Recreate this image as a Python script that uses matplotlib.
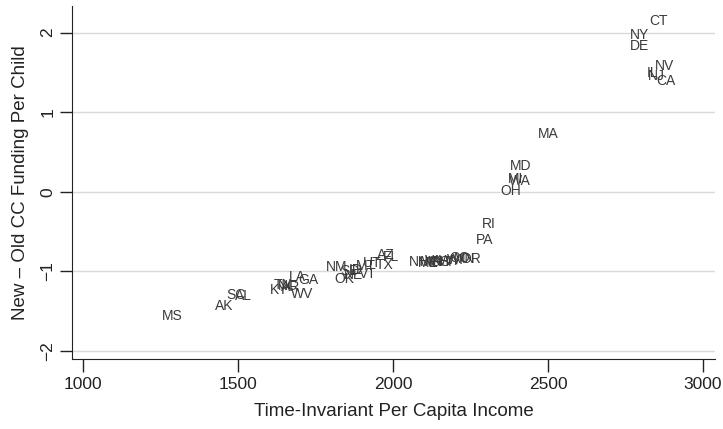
import matplotlib
matplotlib.use("Agg")
import matplotlib.pyplot as plt

states = ["MS", "AK", "SC", "AL", "KY", "TN", "NC", "AR", "LA", "GA", "WV",
          "NM", "OK", "SD", "ID", "NE", "MT", "VT", "UT", "TX", "AZ", "FL",
          "NH", "ME", "MO", "VA", "IN", "KS", "HI", "WY", "WI", "CO", "MN", "OR",
          "PA", "RI", "OH", "MI", "WA", "MD", "MA",
          "IL", "NJ", "CA", "NV", "NY", "DE", "CT"]
income = [1287, 1455, 1494, 1516, 1632, 1645, 1661, 1671, 1690, 1726, 1706,
          1819, 1842, 1861, 1881, 1874, 1913, 1919, 1932, 1974, 1977, 1994,
          2084, 2113, 2123, 2132, 2142, 2155, 2171, 2184, 2200, 2216, 2232, 2252,
          2294, 2310, 2381, 2397, 2410, 2413, 2500,
          2839, 2848, 2881, 2877, 2794, 2794, 2858]
funding = [-1.56, -1.44, -1.29, -1.31, -1.23, -1.17, -1.18, -1.19, -1.07, -1.11, -1.28,
           -0.94, -1.09, -0.99, -0.98, -1.04, -0.93, -1.03, -0.89, -0.92, -0.79, -0.82,
           -0.88, -0.90, -0.88, -0.87, -0.88, -0.88, -0.88, -0.87, -0.86, -0.83, -0.84, -0.84,
           -0.60, -0.40, 0.01, 0.16, 0.14, 0.33, 0.73,
           1.49, 1.46, 1.39, 1.58, 1.97, 1.83, 2.15]

xticks = [1000, 1500, 2000, 2500, 3000]
yticks = [-2, -1, 0, 1, 2]

plt.rcParams['font.family'] = ['Liberation Sans', 'DejaVu Sans']

fig = plt.figure(figsize=(7.23, 4.29), dpi=100)
ax = fig.add_axes([72/723, 1-359/429, (715-72)/723, (359-6.4)/429])

for s, x, y in zip(states, income, funding):
    ax.text(x, y, s, ha='center', va='center', fontsize=10, color='#3a3a3a')

ax.set_xlim(964, 3039)
ax.set_ylim(-2.1, 2.33)
ax.set_xticks(xticks)
ax.set_yticks(yticks)
ax.set_xticklabels([str(v) for v in xticks], fontsize=12.5, color='#222222')
ax.set_yticklabels(["\u22122", "\u22121", "0", "1", "2"], fontsize=12.5, rotation=90,
                   va='center', color='#222222')
for y in yticks:
    ax.axhline(y, color='#d9d9d9', lw=1.0, zorder=0)
ax.spines['top'].set_visible(False)
ax.spines['right'].set_visible(False)
ax.spines['left'].set_color('#222222')
ax.spines['bottom'].set_color('#222222')
ax.tick_params(axis='both', length=9, width=1, color='#222222')
ax.tick_params(axis='x', pad=4)
ax.tick_params(axis='y', pad=3)
ax.set_xlabel("Time-Invariant Per Capita Income", fontsize=13.5, color='#222222', labelpad=8)
ax.set_ylabel("New \u2013 Old CC Funding Per Child", fontsize=13.5, color='#222222', labelpad=8)

fig.savefig("out.png", dpi=100)
